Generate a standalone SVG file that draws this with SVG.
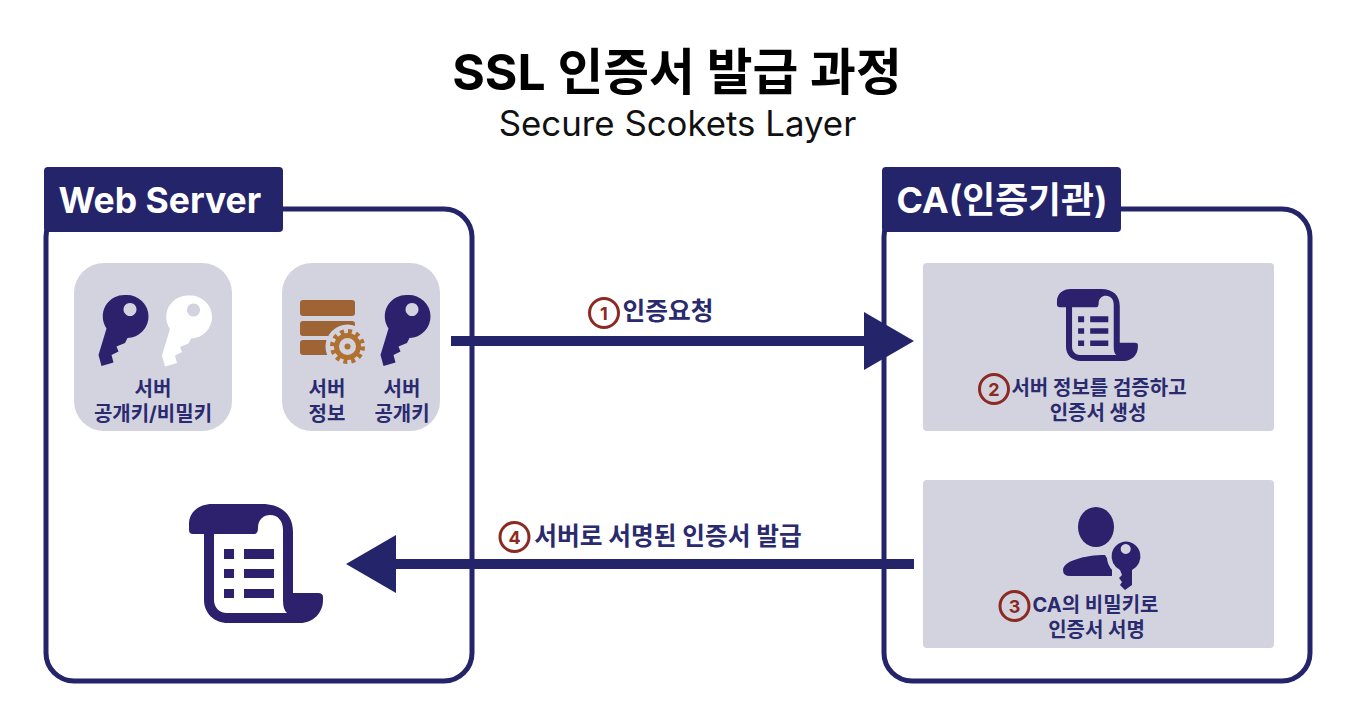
<svg xmlns="http://www.w3.org/2000/svg" width="1350" height="722" viewBox="0 0 1350 722">
<style>
text{font-family:"Inter","Noto Sans CJK KR",sans-serif;}
.panel{fill:#fff;stroke:#24246b;stroke-width:5;}
.tab{fill:#24246b;}
.tabt{fill:#fff;font-size:35.500px;font-weight:700;}
.bg{fill:#d3d3e0;}
.ic{fill:#2d206d;fill-rule:evenodd;}
.lb{fill:#2a2a6e;font-size:20px;font-weight:700;text-anchor:middle;}
.lbb{fill:#2a2a6e;font-size:24.700px;font-weight:700;text-anchor:middle;}
.arr{fill:#24246b;}
.nc{fill:none;stroke:#8b2a20;stroke-width:3;}
.nt{fill:#8b2a20;font-size:18px;font-weight:700;text-anchor:middle;}
.br{fill:#9e6433;}
</style>
<defs>
<path id="key" d="M0-21.500A21.500 21.500 0 0 1 1 21.500L-1.500 26.500-10 30-8 35-15 38.500-13 46-25 49.500-28 38.500-20 12A21.500 21.500 0 0 1 0-21.500ZM3.500-13.500a6.500 6.500 0 1 0 .01 0Z"/>
<path id="scroll" d="M189 530V524C189 512 199 504 212 504H262C282 504 293 515 293 532V593H318Q323 593 323 597V600C323 613 313 623 300 623H228C214 623 204 613 204 600V534H193Q189 534 189 530ZM214 534V600C214 607 219 613 227 613H287Q283 610 283 600V530C283 521 278 515 270 515C264 515 258 519 258 528Q258 534 254 534ZM224 549V559H234V549ZM244 549V559H274V549ZM224 569V578H234V569ZM244 569V578H274V569ZM224 589V598H234V589ZM244 589V598H274V589Z"/>
</defs>
<g id="title">
<text x="677" y="90" font-size="49.800" font-weight="700" text-anchor="middle" fill="#000">SSL 인증서 발급 과정</text>
<text x="677.500" y="136" font-size="34.800" text-anchor="middle" fill="#111">Secure Scokets Layer</text>
</g>
<g id="web-server">
<rect class="panel" x="46" y="209" width="426" height="472" rx="28"/>
<rect class="tab" x="44" y="167" width="239" height="65" rx="4"/>
<text class="tabt" x="58.500" y="213">Web Server</text>
</g>
<g id="server-keys">
<rect class="bg" x="74" y="263" width="158" height="168" rx="30"/>
<use href="#key" class="ic" transform="translate(126.500 316.500)"/>
<use href="#key" fill="#fff" fill-rule="evenodd" transform="translate(190 317)"/>
<text class="lb" x="153" y="396">서버</text>
<text class="lb" x="153" y="421">공개키/비밀키</text>
</g>
<g id="server-info">
<rect class="bg" x="282" y="263" width="158" height="168" rx="30"/>
<rect class="br" x="300" y="300" width="55" height="16" rx="3"/>
<rect class="br" x="300" y="321" width="55" height="15" rx="3"/>
<rect class="br" x="300" y="340" width="55" height="15" rx="3"/>
<circle class="bg" cx="347.500" cy="346.500" r="22"/>
<circle cx="347.500" cy="346.500" r="11" fill="none" stroke="#b0702f" stroke-width="5"/>
<circle cx="347.500" cy="346.500" r="15" fill="none" stroke="#b0702f" stroke-width="5" stroke-dasharray="3.930 3.930"/>
<circle cx="347.500" cy="346.500" r="3" fill="#b0702f"/>
<use href="#key" class="ic" transform="translate(408.500 316.500)"/>
<text class="lb" x="327" y="396">서버</text>
<text class="lb" x="327" y="421">정보</text>
<text class="lb" x="402" y="396">서버</text>
<text class="lb" x="402" y="421">공개키</text>
</g>
<g id="certificate">
<use href="#scroll" class="ic"/>
</g>
<g id="ca">
<rect class="panel" x="884" y="209" width="426" height="472" rx="28"/>
<rect class="tab" x="882" y="167" width="239" height="65" rx="4"/>
<text class="tabt" x="896.500" y="213" style="font-size:35.800px">CA(인증기관)</text>
</g>
<g id="verify">
<rect class="bg" x="923" y="263" width="351" height="168" rx="4"/>
<use href="#scroll" class="ic" transform="translate(942.800 -15.900) scale(.604 .605)"/>
<circle class="nc" cx="994" cy="389" r="14.500"/>
<text class="nt" x="994" y="396">2</text>
<text class="lb" x="1099" y="395">서버 정보를 검증하고</text>
<text class="lb" x="1098" y="420">인증서 생성</text>
</g>
<g id="sign">
<rect class="bg" x="923" y="480" width="351" height="168" rx="4"/>
<ellipse class="ic" cx="1096" cy="527" rx="18" ry="20"/>
<path class="ic" d="M1063 570C1063 561 1085 555 1105 555L1113 568V576H1070Q1063 576 1063 570Z"/>
<circle class="bg" cx="1126" cy="557" r="19"/>
<path class="bg" d="M1112 565h22v28h-22z"/>
<path class="ic" d="M1126 541.500A15 15 0 0 1 1132 570V585L1125 590 1120 585 1122 582 1119 578 1122 575 1120 570A15 15 0 0 1 1126 541.500ZM1125.700 544a5 5 0 1 0 .01 0Z"/>
<circle class="nc" cx="1014.500" cy="606" r="14.500"/>
<text class="nt" x="1014.500" y="613">3</text>
<text class="lb" x="1095.500" y="612">CA의 비밀키로</text>
<text class="lb" x="1096.500" y="637">인증서 서명</text>
</g>
<g id="connectors">
<path class="arr" d="M451 336H864V312L914 341 864 370V346H451Z"/>
<path class="arr" d="M914 559H396V535L346 564 396 593V569H914Z"/>
</g>
<g id="connector-labels">
<circle class="nc" cx="604" cy="313" r="14.500"/>
<text class="nt" x="604" y="320">1</text>
<text class="lbb" x="668" y="320">인증요청</text>
<circle class="nc" cx="514.500" cy="537" r="14.500"/>
<text class="nt" x="514.500" y="544">4</text>
<text class="lbb" x="668" y="545">서버로 서명된 인증서 발급</text>
</g>
</svg>
